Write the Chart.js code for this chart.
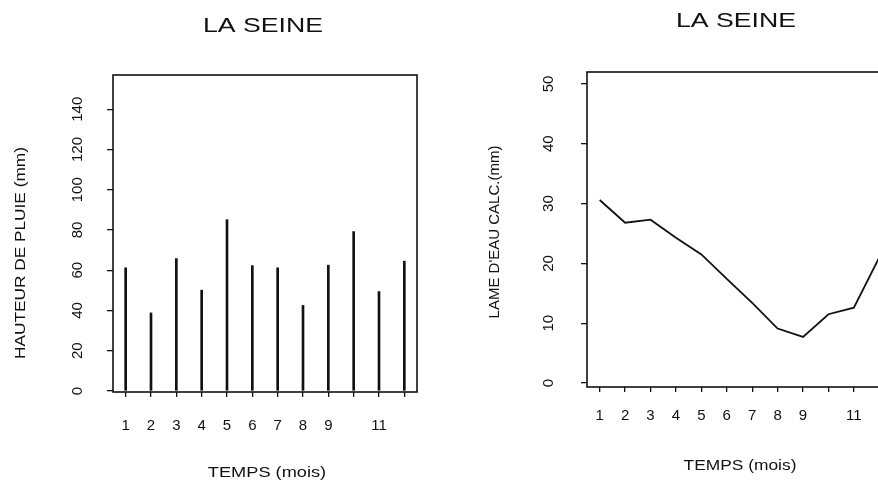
<!DOCTYPE html>
<html>
<head>
<meta charset="utf-8">
<title>La Seine</title>
<script src="https://cdn.jsdelivr.net/npm/chart.js@4.4.0/dist/chart.umd.min.js"></script>
<style>
    body { margin: 0; background: #fff; overflow: hidden; width: 878px; height: 481px; position: relative; }
    #rainBox { position: absolute; left: 0; top: 0; width: 439px; height: 481px; }
    #lameBox { position: absolute; left: 439px; top: 0; width: 470px; height: 481px; }
</style>
</head>
<body>
<div id="rainBox"><canvas id="rainChart" width="439" height="481"></canvas></div>
<div id="lameBox"><canvas id="lameChart" width="470" height="481"></canvas></div>
<script>
// Monthly data
const months = [1, 2, 3, 4, 5, 6, 7, 8, 9, 10, 11, 12];
const monthLabels = ['1', '2', '3', '4', '5', '6', '7', '8', '9', '', '11', ''];
const rain = [61.2, 38.8, 65.8, 50.1, 85.1, 62.3, 61.2, 42.5, 62.5, 79.2, 49.4, 64.5];
const rainTicks = [0, 20, 40, 60, 80, 100, 120, 140];
const lame = [30.6, 26.8, 27.3, 24.3, 21.5, 17.4, 13.4, 9.1, 7.7, 11.5, 12.6, 21.0];
const lameTicks = [0, 10, 20, 30, 40, 50];

const FONT = '"Liberation Sans", Arial, sans-serif';
const INK = '#111';

// Draws the closed frame around the plot and the titles (stretched like the scan)
function decor(texts) {
    return {
        id: 'decor',
        afterDraw(chart) {
            const ctx = chart.ctx;
            const a = chart.chartArea;
            ctx.save();
            ctx.strokeStyle = INK;
            ctx.lineWidth = 1.6;
            ctx.strokeRect(a.left, a.top, a.right - a.left, a.bottom - a.top);
            ctx.fillStyle = INK;
            texts.forEach(t => {
                ctx.save();
                ctx.translate(t.x, t.y);
                if (t.rotate) ctx.rotate(-Math.PI / 2);
                ctx.scale(t.stretch || 1, 1);
                ctx.font = t.size + 'px ' + FONT;
                ctx.textAlign = 'center';
                ctx.textBaseline = t.rotate ? 'middle' : 'alphabetic';
                ctx.fillText(t.text, 0, 0);
                ctx.restore();
            });
            ctx.restore();
        }
    };
}

function yScale(min, max, ticks, width, pad) {
    return {
        min: min,
        max: max,
        afterBuildTicks: s => { s.ticks = ticks.map(v => ({ value: v })); },
        afterFit: s => { s.width = width; },
        border: { display: false },
        grid: { drawOnChartArea: false, tickLength: 6, color: INK, lineWidth: 1.3 },
        ticks: {
            minRotation: 90,
            maxRotation: 90,
            crossAlign: 'center',
            padding: pad,
            color: INK,
            font: { size: 15, family: FONT }
        }
    };
}

function xScale(height, pad) {
    return {
        offset: true,
        afterFit: s => { s.height = height; },
        border: { display: false },
        grid: { offset: false, drawOnChartArea: false, tickLength: 5, color: INK, lineWidth: 1.3 },
        ticks: {
            autoSkip: false,
            maxRotation: 0,
            padding: pad,
            color: INK,
            font: { size: 15, family: FONT },
            callback: (v, i) => monthLabels[i]
        }
    };
}

const basePlugins = {
    legend: { display: false },
    tooltip: { enabled: false }
};

// Rainfall chart (left)
new Chart(document.getElementById('rainChart'), {
    type: 'bar',
    data: {
        labels: months.map(String),
        datasets: [{
            data: rain,
            backgroundColor: INK,
            borderWidth: 0,
            barThickness: 2
        }]
    },
    options: {
        responsive: false,
        animation: false,
        events: [],
        layout: { padding: { top: 75, right: 22, left: 0, bottom: 0 } },
        plugins: basePlugins,
        scales: {
            x: xScale(89, 20),
            y: yScale(-0.5, 157, rainTicks, 113, 17)
        }
    },
    plugins: [decor([
        { text: 'LA SEINE', x: 263, y: 31.5, size: 21, stretch: 1.27 },
        { text: 'TEMPS (mois)', x: 267, y: 477, size: 14, stretch: 1.3 },
        { text: 'HAUTEUR DE PLUIE (mm)', x: 21, y: 253, size: 15, stretch: 1.15, rotate: true }
    ])]
});

// Computed runoff chart (right)
new Chart(document.getElementById('lameChart'), {
    type: 'line',
    data: {
        labels: months.map(String),
        datasets: [{
            data: lame,
            borderColor: INK,
            borderWidth: 1.8,
            pointRadius: 0,
            tension: 0,
            fill: false
        }]
    },
    options: {
        responsive: false,
        animation: false,
        events: [],
        layout: { padding: { top: 72, right: 17, left: 0, bottom: 0 } },
        plugins: basePlugins,
        scales: {
            x: xScale(94, 15),
            y: yScale(-0.67, 52, lameTicks, 148, 24)
        }
    },
    plugins: [decor([
        { text: 'LA SEINE', x: 297, y: 26.5, size: 21, stretch: 1.27 },
        { text: 'TEMPS (mois)', x: 301, y: 470, size: 14, stretch: 1.24 },
        { text: "LAME D'EAU CALC.(mm)", x: 56, y: 232, size: 15, stretch: 1.0, rotate: true }
    ])]
});
</script>
</body>
</html>
